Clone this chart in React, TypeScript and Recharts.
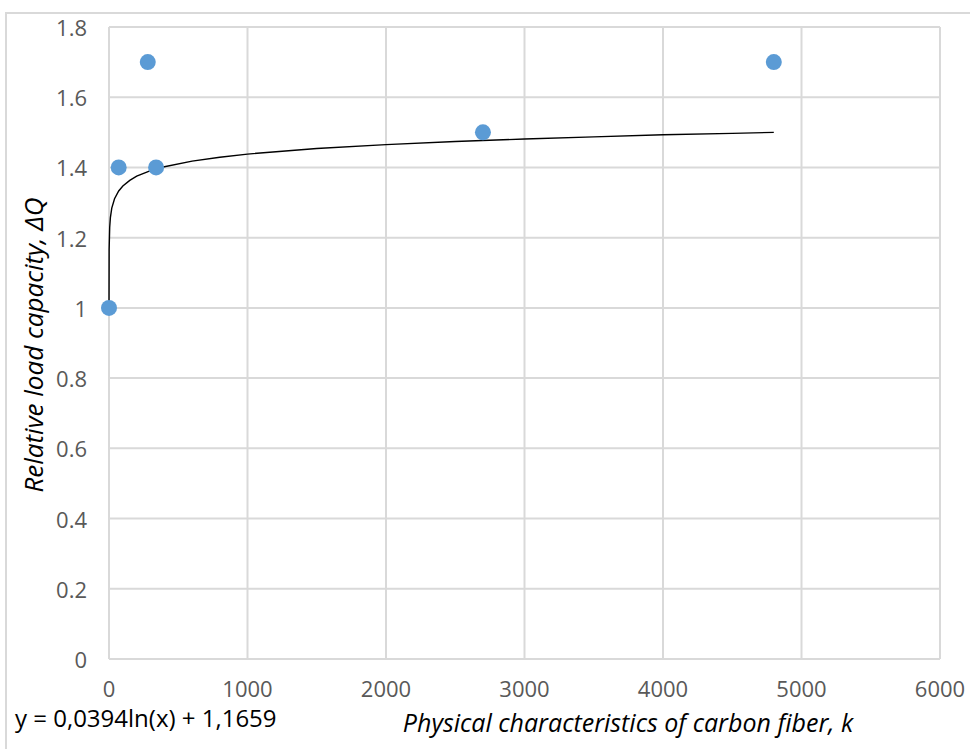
import React from 'react'
import {
  ScatterChart,
  Scatter,
  XAxis,
  YAxis,
  CartesianGrid,
} from 'recharts'

// measured points
const fiberK = [0, 70, 280, 340, 2700, 4800]
const loadCapacity = [1.0, 1.4, 1.7, 1.4, 1.5, 1.7]

// log trendline y = 0,0394ln(x) + 1,1659
const trendK = [0.015, 1, 5, 10, 20, 40, 70, 100, 150, 200, 300, 400, 600, 800, 1000, 1500, 2000, 2500, 3000, 3500, 4000, 4500, 4800]
const trendQ = [1.0, 1.166, 1.229, 1.257, 1.284, 1.311, 1.333, 1.347, 1.363, 1.375, 1.391, 1.402, 1.418, 1.429, 1.438, 1.454, 1.465, 1.474, 1.481, 1.487, 1.493, 1.497, 1.5]

const xTicks = [0, 1000, 2000, 3000, 4000, 5000, 6000]
const yTicks = [0, 0.2, 0.4, 0.6, 0.8, 1, 1.2, 1.4, 1.6, 1.8]

const points = fiberK.map((x, i) => ({ x, y: loadCapacity[i] }))
const trend = trendK.map((x, i) => ({ x, y: trendQ[i] }))

const FONT = '"Open Sans", Lato, sans-serif'
const TICK_COLOR = '#595959'
const GRID = '#d9d9d9'

function XTick({ x, y, payload }: any) {
  return (
    <text x={x} y={y + 21} textAnchor="middle" dominantBaseline="central"
      fontFamily={FONT} fontSize={22} fill={TICK_COLOR}>
      {payload.value}
    </text>
  )
}

function YTick({ x, y, payload }: any) {
  const v = Math.round(payload.value * 10) / 10
  return (
    <text x={87} y={y} textAnchor="end" dominantBaseline="central"
      fontFamily={FONT} fontSize={22} fill={TICK_COLOR}>
      {String(v)}
    </text>
  )
}

function Dot({ cx, cy }: any) {
  return <circle cx={cx} cy={cy} r={8} fill="#5B9BD5" />
}

function NoDot() {
  return <g />
}

export default function App() {
  return (
    <div style={{ position: 'absolute', left: 0, top: 0, width: 970, height: 749, background: '#fff', overflow: 'hidden' }}>
      <div style={{
        position: 'absolute', left: 5, top: 12, width: 970, height: 749,
        borderTop: `2px solid ${GRID}`, borderLeft: `2px solid ${GRID}`,
      }} />
      <ScatterChart
        width={970}
        height={749}
        margin={{ top: 27, right: 30, left: 0, bottom: 0 }}
        style={{ position: 'absolute', left: 0, top: 0 }}
      >
        <CartesianGrid stroke={GRID} strokeWidth={2} />
        <XAxis
          type="number"
          dataKey="x"
          domain={[0, 6000]}
          ticks={xTicks}
          height={90}
          axisLine={false}
          tickLine={false}
          tick={<XTick />}
          interval={0}
        />
        <YAxis
          type="number"
          dataKey="y"
          domain={[0, 1.8]}
          ticks={yTicks}
          width={109}
          axisLine={false}
          tickLine={false}
          tick={<YTick />}
          interval={0}
        />
        <Scatter
          data={trend}
          line={{ stroke: '#000', strokeWidth: 1.4 }}
          lineType="joint"
          shape={<NoDot />}
          isAnimationActive={false}
        />
        <Scatter data={points} shape={<Dot />} isAnimationActive={false} />
      </ScatterChart>
      <div style={{
        position: 'absolute', left: 33, top: 345, transform: 'translate(-50%, -50%) rotate(-90deg)',
        whiteSpace: 'nowrap', fontFamily: FONT, fontStyle: 'italic', fontSize: 26, lineHeight: 1, color: '#000',
      }}>
        Relative load capacity, ΔQ
      </div>
      <div style={{
        position: 'absolute', left: 628, top: 722, transform: 'translate(-50%, -50%)',
        whiteSpace: 'nowrap', fontFamily: FONT, fontStyle: 'italic', fontSize: 25, lineHeight: 1, color: '#000',
      }}>
        Physical characteristics of carbon fiber, k
      </div>
      <div style={{
        position: 'absolute', left: 15, top: 718, transform: 'translateY(-50%)',
        whiteSpace: 'nowrap', fontFamily: FONT, fontSize: 24, lineHeight: 1, color: '#000',
      }}>
        y = 0,0394ln(x) + 1,1659
      </div>
    </div>
  )
}
